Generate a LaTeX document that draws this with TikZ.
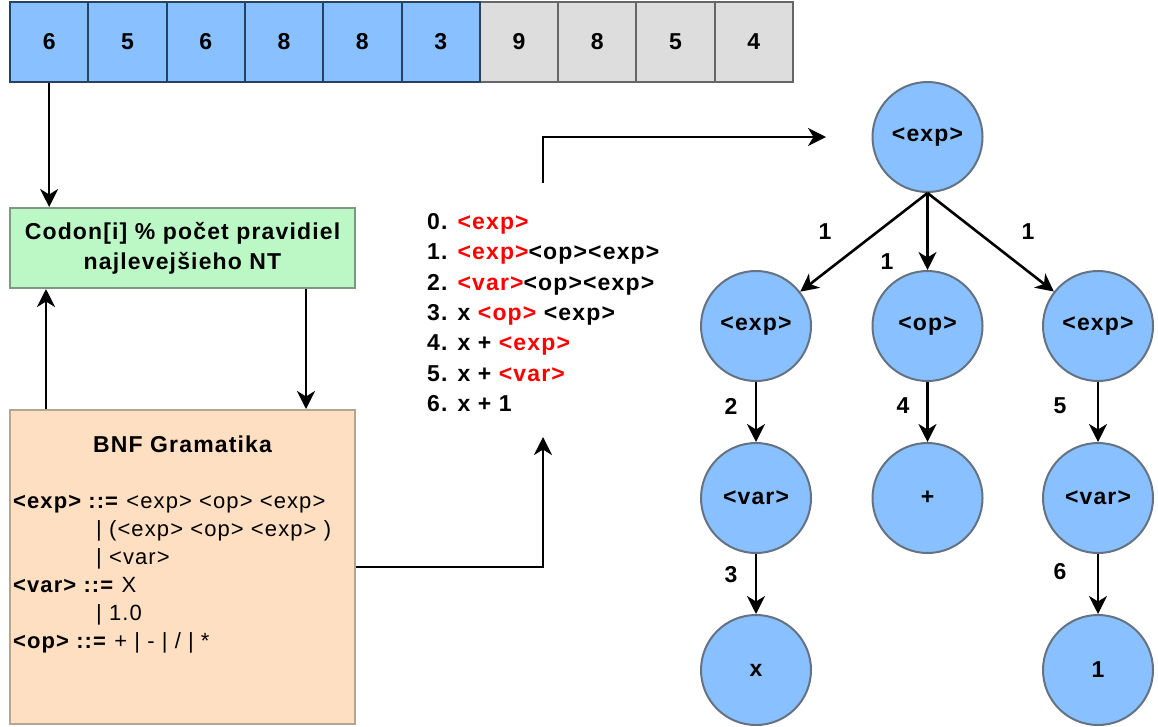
\documentclass[tikz,border=0pt]{standalone}
\usepackage{fontspec}
\setmainfont[LetterSpace=5]{Liberation Sans}
\usetikzlibrary{arrows.meta}
\definecolor{cblue}{RGB}{137,192,255}
\definecolor{cbluedraw}{RGB}{38,66,96}
\definecolor{cgrey}{RGB}{221,221,221}
\definecolor{cgreydraw}{RGB}{102,102,102}
\definecolor{cgreen}{RGB}{188,248,198}
\definecolor{cgreendraw}{RGB}{130,150,130}
\definecolor{cpeach}{RGB}{255,223,193}
\definecolor{cpeachdraw}{RGB}{180,165,145}
\definecolor{ccircdraw}{RGB}{100,114,130}
\definecolor{cred}{RGB}{255,0,0}
\newcommand\myB{\fontsize{23}{27}\selectfont\bfseries}
\newcommand\myR{\fontsize{22}{26}\selectfont}
\newcommand\rd[1]{\textcolor{cred}{#1}}
\begin{document}
\begin{tikzpicture}[x=1pt,y=-1pt,
  cellb/.style={draw=cbluedraw,fill=cblue,line width=2pt,minimum width=78.3pt,minimum height=80pt,inner sep=0pt,font=\myB},
  cellg/.style={draw=cgreydraw,fill=cgrey,line width=2pt,minimum width=78.3pt,minimum height=80pt,inner sep=0pt,font=\myB},
  greenbox/.style={draw=cgreendraw,fill=cgreen,line width=2pt,minimum width=345pt,minimum height=80pt,inner sep=0pt,align=center,font={\fontsize{23}{30}\selectfont\bfseries}},
  bnfbox/.style={draw=cpeachdraw,fill=cpeach,line width=2pt,minimum width=345pt,minimum height=314pt,inner sep=0pt},
  circ/.style={circle,draw=ccircdraw,fill=cblue,line width=2pt,minimum size=110pt,inner sep=0pt,font=\myB},
  arr/.style={line width=2.6pt,-{Stealth[length=18pt,width=18pt,inset=5.5pt]}},
  txt/.style={inner sep=0pt,anchor=base west,font=\myB},
  gram/.style={inner sep=0pt,anchor=base west,font=\myR},
  lbl/.style={inner sep=0pt,font=\myB}]
\useasboundingbox (0,0) rectangle (1158,726);
% array
\node[cellg] (c7) at (518.95,42) {9};
\node[cellg] (c8) at (597.25,42) {8};
\node[cellg] (c9) at (675.55,42) {5};
\node[cellg] (c10) at (753.85,42) {4};
\node[cellb] (c1) at (49.15,42) {6};
\node[cellb] (c2) at (127.45,42) {5};
\node[cellb] (c3) at (205.75,42) {6};
\node[cellb] (c4) at (284.05,42) {8};
\node[cellb] (c5) at (362.35,42) {8};
\node[cellb] (c6) at (440.65,42) {3};
% boxes
\node[greenbox] (nt) at (182.5,248) {Codon[i] \% počet pravidiel\\najlevejšieho NT};
\node[bnfbox] (bnf) at (182.5,567) {};
\node[txt,anchor=base] (bnft) at (182.5,452) {BNF Gramatika};
\node[gram] (g1) at (13,508) {\textbf{<exp> ::=} <exp> <op> <exp>};
\node[gram] (g2) at (96,536) {| (<exp> <op> <exp> )};
\node[gram] (g3) at (96,564) {| <var>};
\node[gram] (g4) at (13,592) {\textbf{<var> ::=} X};
\node[gram] (g5) at (96,620) {| 1.0};
\node[gram] (g6) at (13,648) {\textbf{<op> ::=} + | - | / | *};
% left arrows
\draw[arr] (c1.south) -- (c1.south |- nt.north);
\draw[arr] ([xshift=37pt]bnf.north west) -- ([xshift=37pt]nt.south west);
\draw[arr] ([xshift=297pt]nt.south west) -- ([xshift=297pt]bnf.north west);
% derivation
\node[txt] (d0) at (427,229) {0. \rd{<exp>}};
\node[txt] (d1) at (427,259.5) {1. \rd{<exp>}<op><exp>};
\node[txt] (d2) at (427,290) {2. \rd{<var>}<op><exp>};
\node[txt] (d3) at (427,320) {3. x \rd{<op>} <exp>};
\node[txt] (d4) at (427,350.5) {4. x + \rd{<exp>}};
\node[txt] (d5) at (427,381) {5. x + \rd{<var>}};
\node[txt] (d6) at (427,411) {6. x + 1};
\coordinate (dtop) at (543,183);
\coordinate (dbot) at (543,437);
\coordinate (rootin) at (826,137);
\draw[arr] (bnf.east) -| (dbot);
\draw[arr] (dtop) |- (rootin);
% tree
\node[circ] (r) at (927.5,137) {<exp>};
\node[circ] (e1) at (756,326) {<exp>};
\node[circ] (o1) at (927.5,326) {<op>};
\node[circ] (e2) at (1098,326) {<exp>};
\node[circ] (v1) at (756,498) {<var>};
\node[circ] (p1) at (927.5,498) {+};
\node[circ] (v2) at (1098,498) {<var>};
\node[circ] (x1) at (756,670) {x};
\node[circ] (n1) at (1098,670) {1};
\draw[arr] (r.south) -- (e1);
\draw[arr] (r.south) -- (o1);
\draw[arr] (r.south) -- (e2);
\draw[arr] (e1) -- (v1);
\draw[arr] (o1) -- (p1);
\draw[arr] (e2) -- (v2);
\draw[arr] (v1) -- (x1);
\draw[arr] (v2) -- (n1);
\node[lbl] (l1) at (825,232) {1};
\node[lbl] (l2) at (887,262) {1};
\node[lbl] (l3) at (1028,232) {1};
\node[lbl] (l4) at (731,406) {2};
\node[lbl] (l5) at (903,406) {4};
\node[lbl] (l6) at (1060,406) {5};
\node[lbl] (l7) at (731,575) {3};
\node[lbl] (l8) at (1060,572) {6};
\end{tikzpicture}
\end{document}
